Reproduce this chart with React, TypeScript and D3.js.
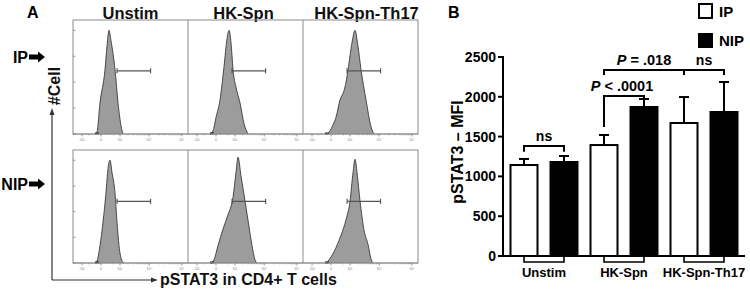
import React from "react";
import * as d3 from "d3";

// ---------- Panel A data (flow histograms) ----------
const stimLabels = ["Unstim", "HK-Spn", "HK-Spn-Th17"];
const rowLabels = ["IP", "NIP"];
// [pSTAT3 intensity, relative cell count]
const histIPUnstim: [number, number][] = [[-189, 0], [-117, 2], [-27, 30], [117, 62], [189, 85], [272, 100], [366, 90], [601, 62], [825, 30], [1098, 8], [1318, 0]];
const histIPSpn: [number, number][] = [[-189, 0], [-86, 3], [0, 16], [117, 33], [272, 65], [420, 92], [540, 100], [670, 88], [825, 62], [1098, 45], [1567, 30], [2185, 10], [3001, 0]];
const histIPTh17: [number, number][] = [[-117, 0], [-27, 3], [55, 9], [150, 16], [318, 33], [540, 42], [670, 50], [825, 62], [1200, 88], [1567, 100], [2000, 85], [2566, 62], [3780, 33], [5500, 7], [6800, 0]];
const histNIPUnstim: [number, number][] = [[-189, 0], [-117, 2], [-27, 17], [55, 40], [150, 68], [229, 92], [318, 100], [420, 88], [601, 68], [743, 40], [909, 17], [1200, 2], [1440, 0]];
const histNIPSpn: [number, number][] = [[-150, 0], [-55, 3], [55, 17], [229, 33], [475, 47], [825, 64], [1098, 88], [1318, 103], [1700, 85], [2380, 60], [3250, 35], [4077, 17], [5100, 3], [5900, 0]];
const histNIPTh17: [number, number][] = [[-150, 0], [-55, 3], [85, 11], [366, 27], [670, 42], [1000, 60], [1318, 88], [1567, 101], [1856, 88], [2380, 60], [3250, 32], [4400, 18], [5500, 4], [6372, 0]];
const histograms = [
  [histIPUnstim, histIPSpn, histIPTh17],
  [histNIPUnstim, histNIPSpn, histNIPTh17],
];
const gateRange = [750, 11000];
const gateLevels = [61, 60];
const flowTickValues = [-1000, 0, 1000, 10000, 100000];
const flowTickLabels = ["-10³", "0", "10³", "10⁴", "10⁵"];
const flowMinorTicks = [-500, 500, 2000, 3000, 4000, 5000, 6000, 7000, 8000, 9000, 20000, 30000, 40000, 50000, 60000, 70000, 80000, 90000];
const cellTicks = [0, 25, 50, 75, 100];

// ---------- Panel B data (bar chart) ----------
const groups = ["Unstim", "HK-Spn", "HK-Spn-Th17"];
const series = ["IP", "NIP"];
const ipMeans = [1143, 1394, 1671];
const ipSem = [76, 126, 326];
const nipMeans = [1181, 1872, 1809];
const nipSem = [75, 100, 377];
const yTicks = [0, 500, 1000, 1500, 2000, 2500];
const sigLabels = ["ns", "P < .0001", "P = .018", "ns"];
const sigPairs: [number, number][] = [[0, 1], [2, 3], [2, 4], [4, 5]];
const sigHeights = [1382, 2010, 2337, 2337];
const sigLeftEnds = [1310, 1620, 2275, 2275];
const sigRightEnds = [1310, 1960, 2275, 2275];

const FONT = "'Liberation Sans', Arial, Helvetica, sans-serif";

function Arrow({ x, y }: { x: number; y: number }) {
  const p = d3.path();
  p.moveTo(x, y - 2.5);
  p.lineTo(x + 9, y - 2.5);
  p.lineTo(x + 9, y - 5.5);
  p.lineTo(x + 16, y);
  p.lineTo(x + 9, y + 5.5);
  p.lineTo(x + 9, y + 2.5);
  p.lineTo(x, y + 2.5);
  p.closePath();
  return <path d={p.toString()} fill="#000" />;
}

export default function App() {
  // ---- Panel A scales ----
  const colBand = d3.scaleBand<string>().domain(stimLabels).range([73, 418]);
  const rowBox = [
    { top: 20, base: 134 },
    { top: 150, base: 263 },
  ];
  const xFlow = (col: string) =>
    d3.scaleSymlog().constant(366).domain([-2185, 152000]).range([colBand(col)!, colBand(col)! + colBand.bandwidth()]);

  // ---- Panel B scales ----
  const y = d3.scaleLinear().domain([0, 2500]).range([256, 57]);
  const xGroup = d3.scaleBand<string>().domain(groups).range([504, 744]);
  const xSeries = d3.scaleBand<string>().domain(series).range([0, xGroup.bandwidth()]).paddingInner(0.325).paddingOuter(0.1625);
  const bars = groups.flatMap((g, i) => [
    { g, s: "IP", mean: ipMeans[i], sem: ipSem[i] },
    { g, s: "NIP", mean: nipMeans[i], sem: nipSem[i] },
  ]);
  const barX = (b: { g: string; s: string }) => xGroup(b.g)! + xSeries(b.s)!;
  const bw = xSeries.bandwidth();
  const barCenter = (i: number) => barX(bars[i]) + bw / 2;

  return (
    <svg width={750} height={295} style={{ display: "block", position: "absolute", left: 0, top: 0 }} fontFamily={FONT}>
      <rect width={750} height={295} fill="#fff" />
      {/* ===== Panel A ===== */}
      <text x={27} y={18} fontSize={16} fontWeight="bold">A</text>
      {stimLabels.map((s) => (
        <text key={s} x={colBand(s)! + colBand.bandwidth() / 2 + (s === "HK-Spn" ? -2 : s === "HK-Spn-Th17" ? 6 : 0)} y={19} fontSize={16.5} fontWeight="bold" textAnchor="middle" fill="#111">{s}</text>
      ))}
      {rowLabels.map((r, ri) => {
        const cy = ri === 0 ? 57 : 184;
        return (
          <g key={r}>
            <text x={28} y={cy + 6} fontSize={16} fontWeight="bold" textAnchor="end">{r}</text>
            <Arrow x={29} y={cy} />
          </g>
        );
      })}
      {rowBox.map((rb, ri) => {
        const yc = d3.scaleLinear().domain([0, 110]).range([rb.base, rb.top]);
        return (
          <g key={ri}>
            {stimLabels.map((col, ci) => {
              const xs = xFlow(col);
              const data = histograms[ri][ci];
              const area = d3.area<[number, number]>().x((d) => xs(d[0])).y0(rb.base).y1((d) => yc(d[1])).curve(d3.curveMonotoneX);
              const line = d3.line<[number, number]>().x((d) => xs(d[0])).y((d) => yc(d[1])).curve(d3.curveMonotoneX);
              const gy = yc(gateLevels[ri]);
              return (
                <g key={col}>
                  <path d={area(data)!} fill="#9c9c9c" />
                  <path d={line(data)!} fill="none" stroke="#3a3a3a" strokeWidth={0.9} />
                  <line x1={xs(-190)} x2={xs(-60)} y1={rb.base - 0.5} y2={rb.base - 0.5} stroke="#111" strokeWidth={2} />
                  <line x1={xs(gateRange[0])} x2={xs(gateRange[1])} y1={gy} y2={gy} stroke="#555" strokeWidth={1.2} />
                  {gateRange.map((gv) => (
                    <line key={gv} x1={xs(gv)} x2={xs(gv)} y1={gy - 2.5} y2={gy + 2.5} stroke="#555" strokeWidth={1.2} />
                  ))}
                  <line x1={colBand(col)!} x2={colBand(col)! + colBand.bandwidth()} y1={rb.base} y2={rb.base} stroke="#888" strokeWidth={0.8} />
                  {flowMinorTicks.map((t) => (
                    <line key={t} x1={xs(t)} x2={xs(t)} y1={rb.base} y2={rb.base + 1.5} stroke="#999" strokeWidth={0.6} />
                  ))}
                  {flowTickValues.map((t, ti) => (
                    <g key={t}>
                      <line x1={xs(t)} x2={xs(t)} y1={rb.base} y2={rb.base + 2.5} stroke="#777" strokeWidth={0.8} />
                      <text x={xs(t)} y={rb.base + 6.5} fontSize={3.5} textAnchor="middle" fill="#777">{flowTickLabels[ti]}</text>
                    </g>
                  ))}
                </g>
              );
            })}
            <rect x={colBand.range()[0]} y={rb.top} width={colBand.range()[1] - colBand.range()[0]} height={rb.base - rb.top} fill="none" stroke="#8a8a8a" strokeWidth={1} />
            {stimLabels.slice(1).map((col) => (
              <line key={col} x1={colBand(col)!} x2={colBand(col)!} y1={rb.top} y2={rb.base} stroke="#8a8a8a" strokeWidth={1} />
            ))}
            {cellTicks.map((t) => (
              <line key={t} x1={colBand.range()[0]} x2={colBand.range()[0] + 2.5} y1={yc(t)} y2={yc(t)} stroke="#777" strokeWidth={0.7} />
            ))}
          </g>
        );
      })}
      {/* axis arrows */}
      <line x1={52} y1={280} x2={52} y2={114} stroke="#333" strokeWidth={1.2} />
      <path d="M52,108 L49.5,115 L54.5,115 Z" fill="#333" />
      <line x1={52} y1={280} x2={152} y2={280} stroke="#333" strokeWidth={1.2} />
      <path d="M158,280 L151,277.5 L151,282.5 Z" fill="#333" />
      <text transform="translate(60,86) rotate(-90)" fontSize={16} fontWeight="bold" textAnchor="middle" fill="#111">#Cell</text>
      <text x={160} y={285} fontSize={16} fontWeight="bold" fill="#111">pSTAT3 in CD4+ T cells</text>

      {/* ===== Panel B ===== */}
      <text x={448} y={18} fontSize={16} fontWeight="bold">B</text>
      {/* legend */}
      <rect x={699} y={4} width={13} height={14} fill="#fff" stroke="#000" strokeWidth={2} />
      <text x={719} y={17} fontSize={15} fontWeight="bold">IP</text>
      <rect x={698} y={33} width={15} height={15} fill="#000" />
      <text x={719} y={46} fontSize={15} fontWeight="bold">NIP</text>

      {/* y axis */}
      <line x1={503} x2={503} y1={y(2500) - 1} y2={y(0) + 1} stroke="#000" strokeWidth={2} />
      {yTicks.map((t) => (
        <g key={t}>
          <line x1={498} x2={503} y1={y(t)} y2={y(t)} stroke="#000" strokeWidth={2} />
          <text x={496} y={y(t) + 5} fontSize={14} fontWeight="bold" textAnchor="end">{t}</text>
        </g>
      ))}
      <text transform="translate(463,152) rotate(-90)" fontSize={16} fontWeight="bold" textAnchor="middle">pSTAT3 – MFI</text>

      {/* bars */}
      {bars.map((b, i) => {
        const x0 = barX(b);
        const cx = x0 + bw / 2;
        return (
          <g key={i}>
            <line x1={cx} x2={cx} y1={y(b.mean)} y2={y(b.mean + b.sem)} stroke="#000" strokeWidth={2} />
            <line x1={cx - 5} x2={cx + 5} y1={y(b.mean + b.sem)} y2={y(b.mean + b.sem)} stroke="#000" strokeWidth={2} />
            <rect x={x0} y={y(b.mean)} width={bw} height={y(0) - y(b.mean)} fill={b.s === "IP" ? "#fff" : "#000"} stroke="#000" strokeWidth={2} />
          </g>
        );
      })}
      {/* x axis */}
      <line x1={502} x2={745} y1={y(0)} y2={y(0)} stroke="#000" strokeWidth={2} />
      {groups.map((g, gi) => {
        const c1 = barCenter(gi * 2);
        const c2 = barCenter(gi * 2 + 1);
        return (
          <g key={g}>
            <path d={`M${c1},${y(0)} V${y(0) + 6} H${c2} V${y(0)}`} fill="none" stroke="#000" strokeWidth={1.6} />
            <text x={xGroup(g)! + xGroup.bandwidth() / 2} y={277} fontSize={13} fontWeight="bold" textAnchor="middle">{g}</text>
          </g>
        );
      })}
      {/* significance brackets */}
      {sigPairs.map(([a, b], i) => {
        const xa = barCenter(a);
        const xb = barCenter(b);
        const yh = y(sigHeights[i]);
        const lbl = sigLabels[i];
        const isP = lbl.startsWith("P");
        return (
          <g key={i}>
            <path d={`M${xa},${y(sigLeftEnds[i])} V${yh} H${xb} V${y(sigRightEnds[i])}`} fill="none" stroke="#000" strokeWidth={2} />
            <text x={(xa + xb) / 2 + (i === 1 ? -2 : 0)} y={yh - 5} fontSize={isP ? 14.5 : 14} fontWeight="bold" textAnchor="middle">
              {isP ? (
                <>
                  <tspan fontStyle="italic">P</tspan>
                  <tspan>{lbl.slice(1)}</tspan>
                </>
              ) : (
                lbl
              )}
            </text>
          </g>
        );
      })}
    </svg>
  );
}
